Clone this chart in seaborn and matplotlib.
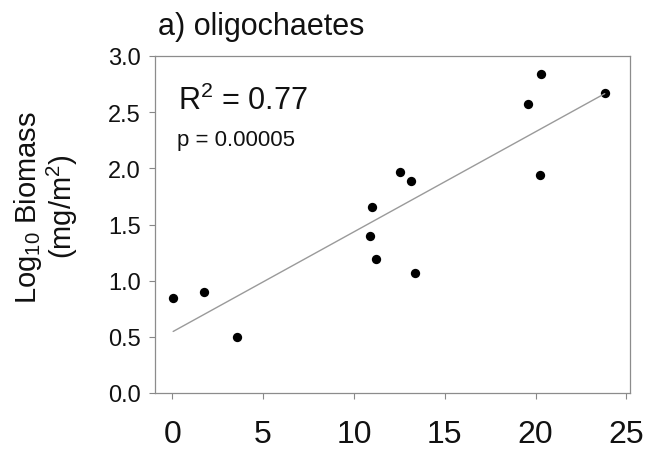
import matplotlib
matplotlib.use("Agg")
import matplotlib.pyplot as plt
import seaborn as sns
import numpy as np
import pandas as pd

# Values
temperature = [0.05, 1.74, 3.58, 11.02, 10.88, 11.24, 12.52, 13.14, 13.36, 19.57, 20.30, 20.23, 23.81]
log_biomass = [0.85, 0.90, 0.50, 1.66, 1.40, 1.19, 1.97, 1.89, 1.07, 2.57, 2.84, 1.94, 2.67]
x_ticks = [0, 5, 10, 15, 20, 25]
y_ticks = [0.0, 0.5, 1.0, 1.5, 2.0, 2.5, 3.0]
title = "a) oligochaetes"
r2_text = "R$\\mathregular{^2}$ = 0.77"
p_text = "p = 0.00005"

df = pd.DataFrame({"x": temperature, "y": log_biomass})

sns.set_style("white")
plt.rcParams["font.family"] = ["Liberation Sans", "DejaVu Sans"]
plt.rcParams["text.color"] = "#111111"
plt.rcParams["xtick.color"] = "#111111"
plt.rcParams["ytick.color"] = "#111111"

fig = plt.figure(figsize=(6.5, 4.6), dpi=100)
ax = fig.add_axes([155 / 650, 1 - 394 / 460, 475 / 650, 337 / 460])

sns.regplot(data=df, x="x", y="y", ax=ax, ci=None,
            scatter_kws={"s": 45, "color": "black", "linewidths": 0, "alpha": 1},
            line_kws={"color": "#9a9a9a", "lw": 1.0})

ax.set_xlim(-0.95, 25.2)
ax.set_ylim(0, 3.0)
ax.set_xticks(x_ticks)
ax.set_yticks(y_ticks)
ax.set_yticklabels([f"{v:.1f}" for v in y_ticks])
ax.tick_params(axis="x", labelsize=23, length=4, width=0.8, color="#888888",
               labelcolor="#111111", direction="out", pad=15, bottom=True)
ax.tick_params(axis="y", labelsize=17, length=4, width=0.8, color="#888888",
               labelcolor="#111111", direction="out", pad=6, left=True)
for s in ax.spines.values():
    s.set_color("#8c8c8c")
    s.set_linewidth(0.9)

ax.set_xlabel("")
ax.set_ylabel("")
fig.text(46 / 650, 1 - 207 / 460,
         "Log$\\mathregular{_{10}}$ Biomass\n(mg/m$\\mathregular{^2}$)",
         fontsize=21, rotation=90, ha="center", va="center",
         multialignment="center", linespacing=1.05)

ax.text(0.048, 0.843, r2_text, transform=ax.transAxes, fontsize=22, va="baseline")
ax.text(0.046, 0.736, p_text, transform=ax.transAxes, fontsize=16, va="baseline")
fig.text(158 / 650, 1 - 35 / 460, title, fontsize=22, va="baseline")

fig.savefig("out.png", dpi=100)
